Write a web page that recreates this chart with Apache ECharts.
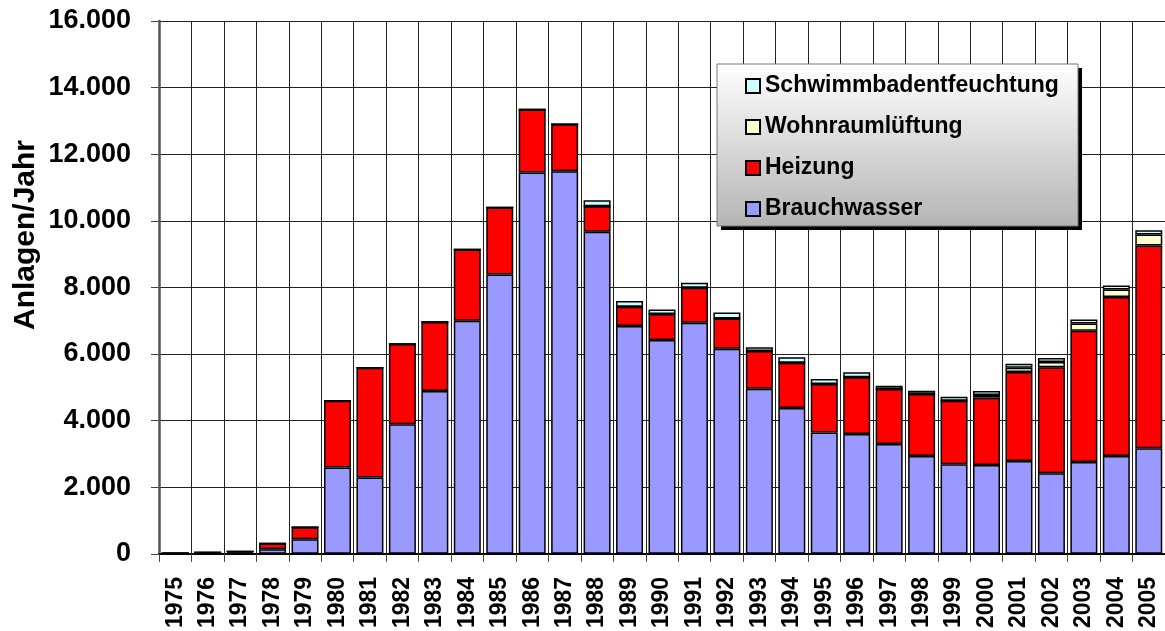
<!DOCTYPE html>
<html>
<head>
<meta charset="utf-8">
<script src="https://cdn.jsdelivr.net/npm/echarts@6/dist/echarts.min.js"></script>
<style>
  html, body { margin: 0; padding: 0; background: #fff; }
  #chart { width: 1165px; height: 631px; }
</style>
</head>
<body>
<div id="chart"></div>
<script>
// Jahre und Werte (Anlagen pro Jahr)
const years = ['1975', '1976', '1977', '1978', '1979', '1980', '1981', '1982', '1983', '1984',
  '1985', '1986', '1987', '1988', '1989', '1990', '1991', '1992', '1993', '1994',
  '1995', '1996', '1997', '1998', '1999', '2000', '2001', '2002', '2003', '2004', '2005'];
const brauchwasser = [20, 40, 40, 140, 440, 2590, 2290, 3890, 4890, 7000,
  8390, 11450, 11490, 9670, 6840, 6420, 6940, 6160, 4960, 4380,
  3640, 3600, 3300, 2940, 2690, 2670, 2790, 2420, 2760, 2940, 3170];
const heizung = [0, 0, 30, 170, 360, 2010, 3300, 2410, 2070, 2140,
  2010, 1890, 1410, 770, 580, 780, 1050, 910, 1130, 1360,
  1460, 1700, 1650, 1860, 1910, 2020, 2670, 3180, 3940, 4770, 6090];
const wohnraum = [0, 0, 0, 0, 0, 0, 0, 0, 0, 0,
  0, 0, 0, 0, 0, 0, 0, 0, 0, 0,
  0, 0, 0, 0, 0, 80, 130, 160, 220, 230, 330];
const schwimmbad = [0, 0, 0, 0, 0, 0, 0, 0, 0, 0,
  0, 0, 0, 180, 170, 140, 150, 180, 110, 160,
  150, 150, 100, 100, 120, 120, 120, 120, 120, 120, 130];
const yTicks = [0, 2000, 4000, 6000, 8000, 10000, 12000, 14000, 16000];

const font = '"Liberation Sans", Arial, sans-serif';

function fmt (v) {
  return String(v).replace(/\B(?=(\d{3})+(?!\d))/g, '.');
}

function barSeries (name, data, color) {
  return {
    name: name,
    type: 'bar',
    stack: 'total',
    data: data,
    barWidth: 27,
    itemStyle: {
      color: color,
      borderColor: '#000',
      borderWidth: 1.5,
    },
  };
}

const chart = echarts.init(document.getElementById('chart'));
chart.setOption({
  animation: false,
  grid: {
    left: 159,
    top: 21,
    right: -4,
    bottom: 77,
  },
  legend: {
    orient: 'vertical',
    left: 740,
    top: 69,
    z: 200,
    icon: 'rect',
    itemWidth: 14,
    itemHeight: 14,
    itemGap: 17,
    data: ['Schwimmbadentfeuchtung', 'Wohnraumlüftung', 'Heizung', 'Brauchwasser'],
    textStyle: {
      fontFamily: font,
      fontWeight: 'bold',
      fontSize: 23,
      lineHeight: 24,
      color: '#000',
    },
  },
  graphic: [
    {
      type: 'rect',
      z: 99,
      shape: { x: 721, y: 68, width: 361, height: 162 },
      style: { fill: '#000' },
    },
    {
      type: 'rect',
      z: 100,
      shape: { x: 717, y: 64, width: 361, height: 162 },
      style: {
        fill: {
          type: 'linear', x: 0, y: 0, x2: 0, y2: 1,
          colorStops: [{ offset: 0, color: '#ffffff' }, { offset: 1, color: '#b4b4b4' }],
        },
        stroke: '#777',
        lineWidth: 1,
      },
    },
    {
      type: 'text',
      x: 26,
      y: 235,
      rotation: Math.PI / 2,
      style: {
        text: 'Anlagen/Jahr',
        fontFamily: font,
        fontWeight: 'bold',
        fontSize: 30,
        fill: '#000',
        align: 'center',
        verticalAlign: 'middle',
      },
    },
  ],
  xAxis: {
    type: 'category',
    data: years,
    axisLine: { lineStyle: { color: '#000', width: 2 } },
    axisTick: { show: true, length: 8, lineStyle: { color: '#444' } },
    splitLine: { show: true, lineStyle: { color: '#222', width: 1 } },
    axisLabel: {
      rotate: 90,
      interval: 0,
      margin: 23,
      fontFamily: font,
      fontWeight: 'bold',
      fontSize: 23,
      color: '#000',
    },
  },
  yAxis: {
    type: 'value',
    min: yTicks[0],
    max: yTicks[yTicks.length - 1],
    interval: 2000,
    axisLine: { show: true, lineStyle: { color: '#555', width: 2.5 } },
    axisTick: { show: true, length: 8, lineStyle: { color: '#444' } },
    splitLine: { show: true, lineStyle: { color: '#222', width: 1 } },
    axisLabel: {
      margin: 28,
      fontFamily: font,
      fontWeight: 'bold',
      fontSize: 27,
      color: '#000',
      formatter: fmt,
    },
  },
  series: [
    barSeries('Brauchwasser', brauchwasser, '#9999ff'),
    barSeries('Heizung', heizung, '#ff0000'),
    barSeries('Wohnraumlüftung', wohnraum, '#ffffcc'),
    barSeries('Schwimmbadentfeuchtung', schwimmbad, '#ccffff'),
  ],
});
</script>
</body>
</html>
